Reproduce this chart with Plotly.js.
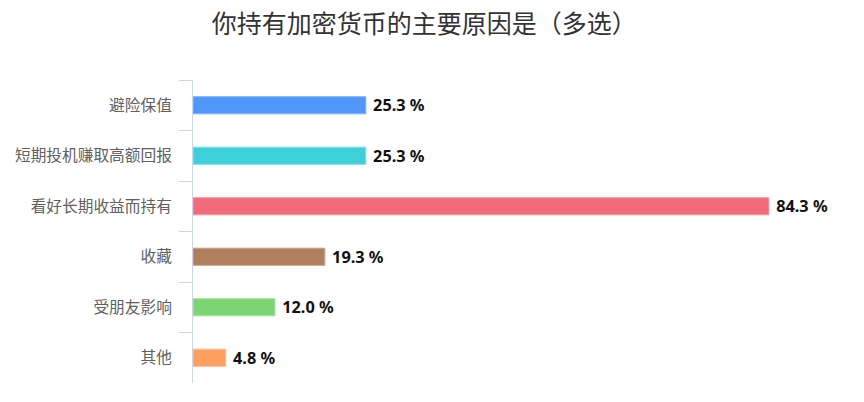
<!DOCTYPE html>
<html>
<head>
<meta charset="utf-8">
<script src="https://cdn.plot.ly/plotly-3.0.1.min.js"></script>
<style>html,body{margin:0;padding:0;background:#fff;}#chart{width:864px;height:402px;}</style>
</head>
<body>
<div id="chart"></div>
<script>
const categories = ['避险保值', '短期投机赚取高额回报', '看好长期收益而持有', '收藏', '受朋友影响', '其他'];
const values = [25.3, 25.3, 84.3, 19.3, 12.0, 4.8];
const barColors = ['#5097fa', '#3dd0d8', '#f16b7a', '#b07f5e', '#7cd572', '#ffa060'];
const borderColors = ['#80b4fb', '#7fe0e5', '#f598a2', '#c9a48b', '#a7e39f', '#ffbd90'];
const labels = values.map(v => ' ' + v.toFixed(1) + ' %');

const trace = {
  type: 'bar',
  orientation: 'h',
  y: categories,
  x: values,
  text: labels,
  textposition: 'outside',
  constraintext: 'none',
  cliponaxis: false,
  textfont: {family: 'Noto Sans, sans-serif', size: 16.3, color: '#111', weight: 'bold'},
  marker: {color: barColors, line: {color: borderColors, width: 1}},
  hoverinfo: 'none'
};

const layout = {
  width: 864,
  height: 402,
  margin: {l: 193, r: 22, t: 80, b: 19},
  paper_bgcolor: '#fff',
  plot_bgcolor: '#fff',
  showlegend: false,
  bargap: 0.66,
  title: {
    text: '你持有加密货币的主要原因是（多选）',
    font: {family: 'Noto Sans CJK SC, sans-serif', size: 25, color: '#333'},
    x: 0.491, xref: 'container', xanchor: 'center',
    y: 0.94, yref: 'container', yanchor: 'middle'
  },
  xaxis: {
    range: [0, 95],
    visible: false,
    showgrid: false,
    zeroline: false,
    fixedrange: true
  },
  yaxis: {
    autorange: 'reversed',
    showline: true,
    linecolor: '#ccd6eb',
    linewidth: 1,
    ticks: 'outside',
    tickson: 'boundaries',
    ticklen: 13,
    tickcolor: '#ccd6eb',
    tickwidth: 1,
    ticklabelstandoff: 17,
    showgrid: false,
    zeroline: false,
    tickfont: {family: 'Noto Sans CJK SC, sans-serif', size: 15.7, color: '#606060'}
  }
};

Plotly.newPlot('chart', [trace], layout, {staticPlot: true, displayModeBar: false});
</script>
</body>
</html>
